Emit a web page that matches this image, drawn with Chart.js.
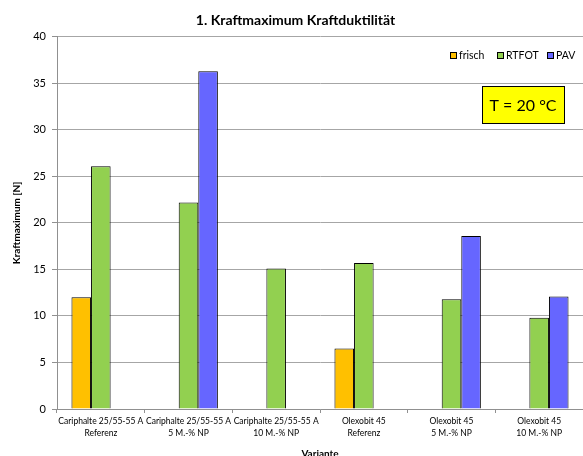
<!DOCTYPE html>
<html>
<head>
<meta charset="utf-8">
<script src="https://cdn.jsdelivr.net/npm/chart.js@4.4.1/dist/chart.umd.min.js"></script>
<style>
  html, body { margin: 0; padding: 0; background: #fff; }
  #wrap { width: 583px; height: 456px; }
</style>
</head>
<body>
<div id="wrap"><canvas id="kraftChart" width="583" height="456"></canvas></div>
<script>
// Data
const varianten = [
    [ 'Cariphalte 25/55-55 A', 'Referenz' ],
    [ 'Cariphalte 25/55-55 A', '5 M.-% NP' ],
    [ 'Cariphalte 25/55-55 A', '10 M.-% NP' ],
    [ 'Olexobit 45', 'Referenz' ],
    [ 'Olexobit 45', '5 M.-% NP' ],
    [ 'Olexobit 45', '10 M.-% NP' ]
];
const frisch = [ 12.0, null, null, 6.5, null, null ];
const rtfot = [ 26.1, 22.2, 15.1, 15.7, 11.8, 9.8 ];
const pav = [ null, 36.3, null, null, 18.6, 12.1 ];
const yTicks = [ 0, 5, 10, 15, 20, 25, 30, 35, 40 ];

const fontFam = 'Lato, "Liberation Sans", Arial, sans-serif';

// small legend inside the plot, top right (library legend can't sit there in a row)
const innerLegend = {
    id: 'innerLegend',
    afterDraw ( chart )
    {
        const ctx = chart.ctx;
        const xs = [ 450, 497, 547 ];
        const y = 52;
        ctx.save();
        ctx.font = '10.5px ' + fontFam;
        ctx.textBaseline = 'middle';
        ctx.textAlign = 'left';
        chart.data.datasets.forEach( ( ds, i ) =>
        {
            ctx.fillStyle = ds.backgroundColor;
            ctx.fillRect( xs[ i ], y, 6, 6 );
            ctx.strokeStyle = '#000';
            ctx.lineWidth = 1;
            ctx.strokeRect( xs[ i ] + 0.5, y + 0.5, 6, 6 );
            ctx.fillStyle = '#000';
            ctx.fillText( ds.label, xs[ i ] + 9, y + 3.5 );
        } );
        ctx.restore();
    }
};

// yellow temperature box in the upper right of the plot
const tempBox = {
    id: 'tempBox',
    afterDraw ( chart )
    {
        const ctx = chart.ctx;
        const x = 482, y = 86, w = 82, h = 37;
        ctx.save();
        ctx.fillStyle = '#ffff00';
        ctx.fillRect( x, y, w, h );
        ctx.strokeStyle = '#000';
        ctx.lineWidth = 1;
        ctx.strokeRect( x + 0.5, y + 0.5, w, h );
        ctx.fillStyle = '#000';
        ctx.font = '16px ' + fontFam;
        ctx.textAlign = 'center';
        ctx.textBaseline = 'middle';
        ctx.fillText( 'T = 20 °C', x + w / 2, y + h / 2 + 1 );
        ctx.restore();
    }
};

new Chart( document.getElementById( 'kraftChart' ), {
    type: 'bar',
    data: {
        labels: varianten,
        datasets: [
            { label: 'frisch', data: frisch, backgroundColor: '#ffc000', borderColor: '#000', borderWidth: 1 },
            { label: 'RTFOT', data: rtfot, backgroundColor: '#92d050', borderColor: '#000', borderWidth: 1 },
            { label: 'PAV', data: pav, backgroundColor: '#6666ff', borderColor: '#000', borderWidth: 1 }
        ]
    },
    options: {
        responsive: false,
        animation: false,
        // the original chart is cut off on the right, so the plot runs past the edge
        layout: { padding: { left: 1, right: -7, top: 0, bottom: 0 } },
        datasets: { bar: { categoryPercentage: 0.67, barPercentage: 1 } },
        plugins: {
            title: {
                display: true,
                text: '1. Kraftmaximum Kraftduktilität',
                color: '#000',
                font: { family: fontFam, size: 14, weight: 'bold' },
                padding: { top: 12, bottom: 8 }
            },
            legend: { display: false },
            tooltip: { enabled: false }
        },
        scales: {
            x: {
                afterFit ( scale )
                {
                    scale.height = 47;
                },
                grid: { display: true, drawOnChartArea: false, tickLength: 4, color: '#909090' },
                border: { color: '#909090' },
                ticks: {
                    color: '#000',
                    font: { family: fontFam, size: 8.5, lineHeight: 1.45 },
                    maxRotation: 0,
                    autoSkip: false,
                    padding: 2
                },
                title: {
                    display: true,
                    text: 'Variante',
                    color: '#000',
                    font: { family: fontFam, size: 10, weight: 'bold' },
                    padding: { top: 0, bottom: -4 }
                }
            },
            y: {
                min: 0,
                max: 40,
                afterBuildTicks ( scale )
                {
                    scale.ticks = yTicks.map( v => ( { value: v } ) );
                },
                afterFit ( scale )
                {
                    scale.width = 56;
                },
                grid: { color: '#a6a6a6', tickLength: 5, tickColor: '#909090' },
                border: { color: '#909090' },
                ticks: {
                    color: '#000',
                    font: { family: fontFam, size: 11 },
                    padding: 6
                },
                title: {
                    display: true,
                    text: 'Kraftmaximum [N]',
                    color: '#000',
                    font: { family: fontFam, size: 10, weight: 'bold' },
                    padding: { top: 10, bottom: 4 }
                }
            }
        }
    },
    plugins: [ innerLegend, tempBox ]
} );
</script>
</body>
</html>
